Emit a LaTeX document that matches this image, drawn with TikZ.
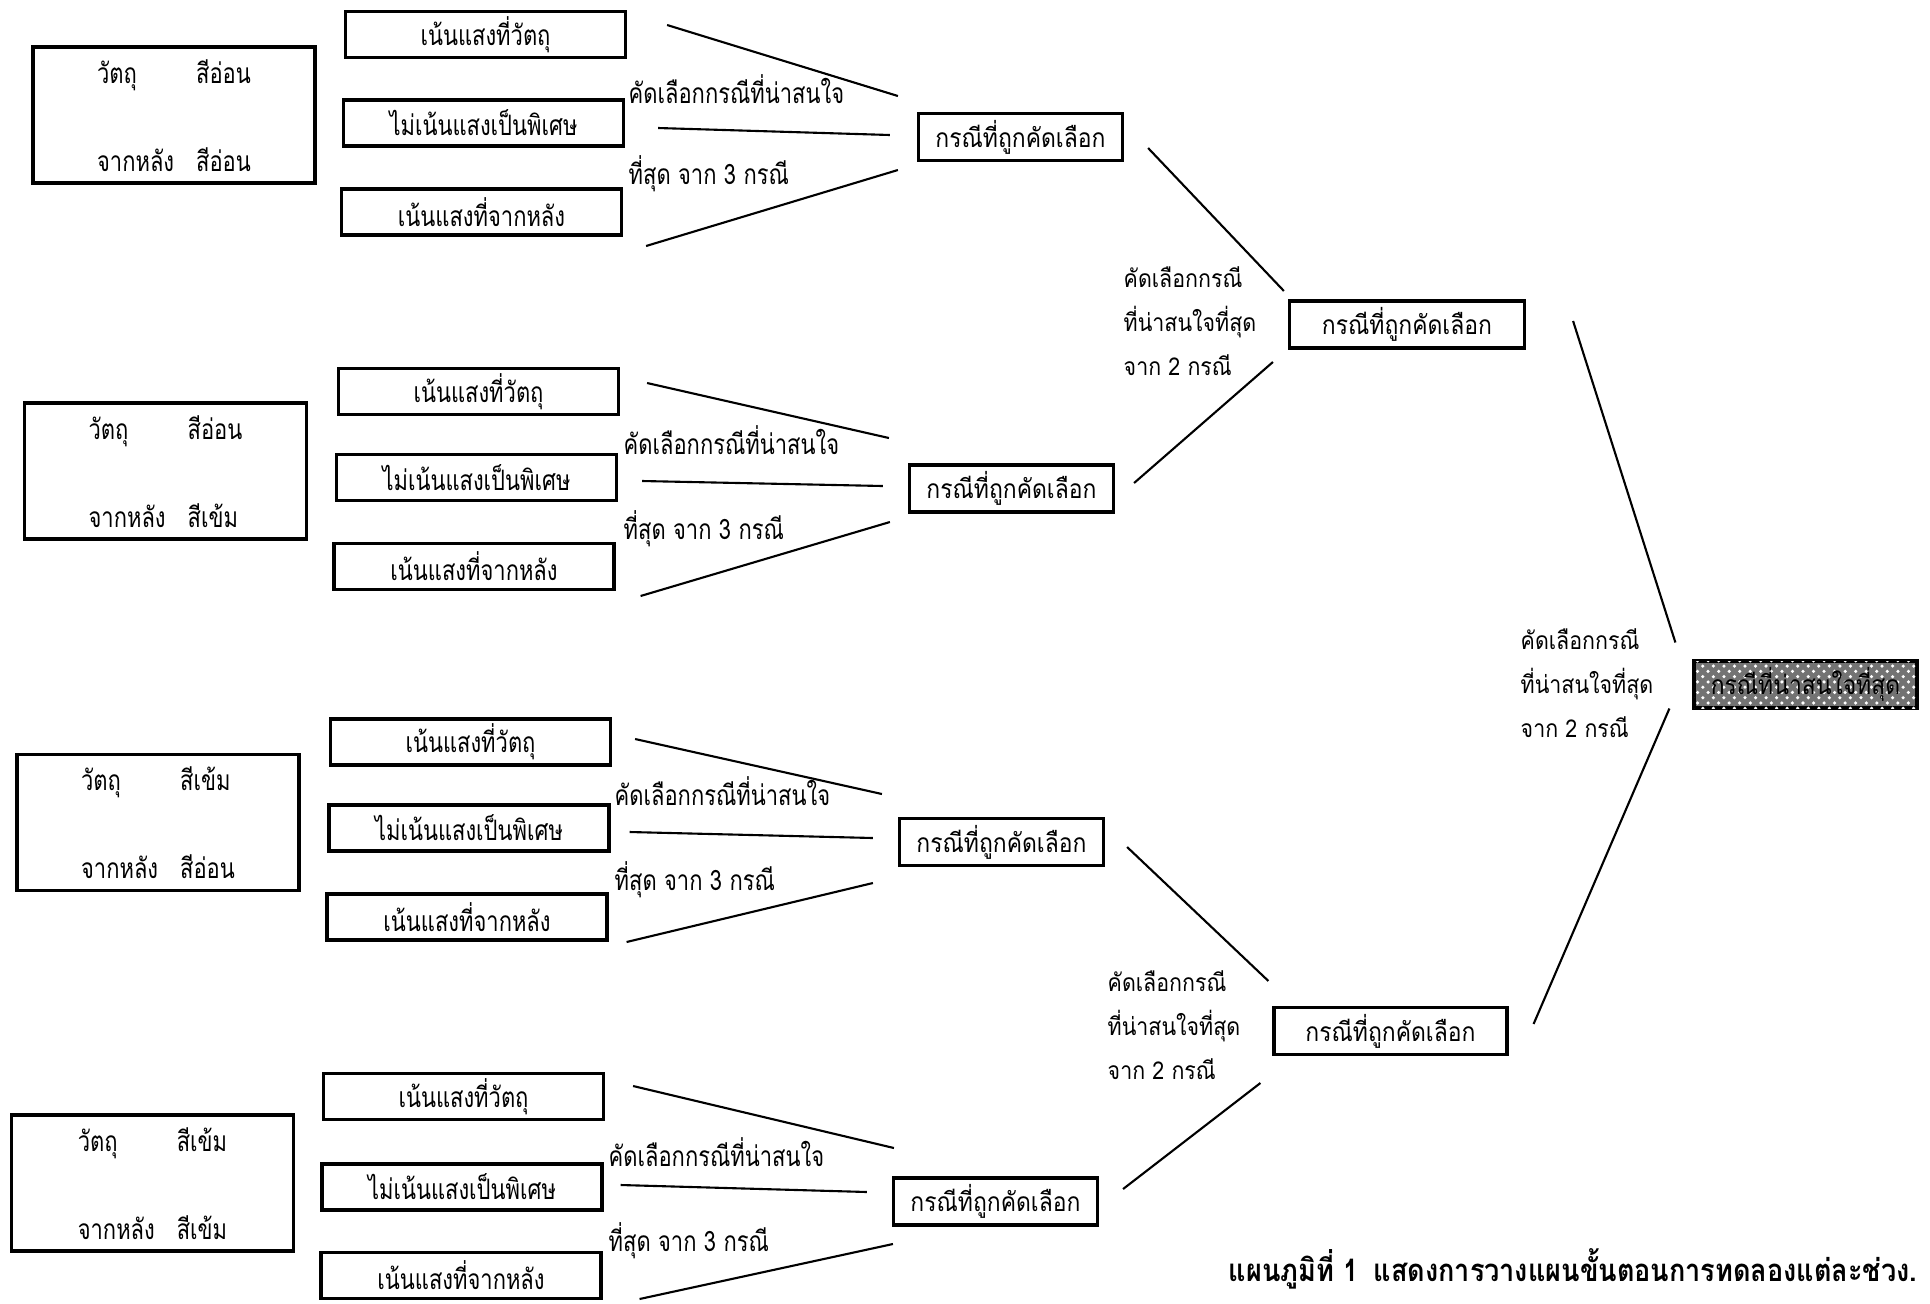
\documentclass[tikz,border=0pt]{standalone}
\usepackage{fontspec}
\newfontfamily\thaimid[Script=Thai,FakeStretch=0.87]{Loma}
\newfontfamily\thainarrow[Script=Thai,FakeStretch=0.78]{Loma}
\usetikzlibrary{patterns}
\tikzset{
  condbox/.style={
    rectangle, draw=black, line width=0.9pt, inner sep=0pt,
    minimum width=2.82cm, minimum height=1.36cm,
    font=\thainarrow\fontsize{8}{9}\selectfont
  },
  optbox/.style={
    rectangle, draw=black, line width=0.9pt, inner sep=0pt,
    minimum width=2.8cm, minimum height=0.46cm,
    font=\thainarrow\fontsize{8}{9}\selectfont
  },
  pickbox/.style={
    rectangle, draw=black, line width=0.9pt, inner sep=0pt,
    minimum width=#1, minimum height=0.47cm,
    font=\thaimid\fontsize{7.5}{9}\selectfont
  },
  pickbox/.default=2.04cm,
  bestbox/.style={
    pickbox=2.23cm, fill=black!55,
    postaction={pattern=crosshatch dots, pattern color=white!85}
  },
  cutline/.style={line width=0.6pt}
}

\begin{document}
\begin{tikzpicture}[
  notelabel/.style={anchor=west, inner sep=0pt, font=\thainarrow\fontsize{8}{9}\selectfont},
  pairlabel/.style={anchor=west, inner sep=0pt, align=left, font=\thaimid\fontsize{7}{12.6}\selectfont}
]
\useasboundingbox (0,0) rectangle (19.30,-13.04);

% Group 1: object light, background light
\node[condbox] (cond1) at (1.74,-1.15) {\begin{tabular}{@{}l@{\hspace{0.22cm}}l@{}}\rule{0pt}{0.34cm}วัตถุ & สีอ่อน\\[0.55cm] จากหลัง & สีอ่อน\end{tabular}};
\node[optbox] (a1) at (4.855,-0.345) {เน้นแสงที่วัตถุ};
\node[optbox] (b1) at (4.835,-1.23) {ไม่เน้นแสงเป็นพิเศษ};
\node[optbox] (c1) at (4.815,-2.12) {เน้นแสงที่จากหลัง};
\node[pickbox] (s1) at (10.205,-1.37) {กรณีที่ถูกคัดเลือก};
\node[notelabel] (n1a) at (6.28,-0.89) {คัดเลือกกรณีที่น่าสนใจ};
\node[notelabel] (n1b) at (6.28,-1.74) {ที่สุด จาก 3 กรณี};

% Group 2: object light, background dark
\node[condbox] (cond2) at (1.655,-4.71) {\begin{tabular}{@{}l@{\hspace{0.22cm}}l@{}}\rule{0pt}{0.34cm}วัตถุ & สีอ่อน\\[0.55cm] จากหลัง & สีเข้ม\end{tabular}};
\node[optbox] (a2) at (4.785,-3.915) {เน้นแสงที่วัตถุ};
\node[optbox] (b2) at (4.765,-4.775) {ไม่เน้นแสงเป็นพิเศษ};
\node[optbox] (c2) at (4.74,-5.665) {เน้นแสงที่จากหลัง};
\node[pickbox] (s2) at (10.115,-4.885) {กรณีที่ถูกคัดเลือก};
\node[notelabel] (n2a) at (6.23,-4.40) {คัดเลือกกรณีที่น่าสนใจ};
\node[notelabel] (n2b) at (6.23,-5.29) {ที่สุด จาก 3 กรณี};

% Group 3: object dark, background light
\node[condbox] (cond3) at (1.58,-8.225) {\begin{tabular}{@{}l@{\hspace{0.22cm}}l@{}}\rule{0pt}{0.34cm}วัตถุ & สีเข้ม\\[0.55cm] จากหลัง & สีอ่อน\end{tabular}};
\node[optbox] (a3) at (4.705,-7.42) {เน้นแสงที่วัตถุ};
\node[optbox] (b3) at (4.69,-8.28) {ไม่เน้นแสงเป็นพิเศษ};
\node[optbox] (c3) at (4.67,-9.17) {เน้นแสงที่จากหลัง};
\node[pickbox] (s3) at (10.015,-8.42) {กรณีที่ถูกคัดเลือก};
\node[notelabel] (n3a) at (6.14,-7.91) {คัดเลือกกรณีที่น่าสนใจ};
\node[notelabel] (n3b) at (6.14,-8.80) {ที่สุด จาก 3 กรณี};

% Group 4: object dark, background dark
\node[condbox] (cond4) at (1.525,-11.83) {\begin{tabular}{@{}l@{\hspace{0.22cm}}l@{}}\rule{0pt}{0.34cm}วัตถุ & สีเข้ม\\[0.55cm] จากหลัง & สีเข้ม\end{tabular}};
\node[optbox] (a4) at (4.635,-10.965) {เน้นแสงที่วัตถุ};
\node[optbox] (b4) at (4.62,-11.87) {ไม่เน้นแสงเป็นพิเศษ};
\node[optbox] (c4) at (4.61,-12.755) {เน้นแสงที่จากหลัง};
\node[pickbox] (s4) at (9.955,-12.015) {กรณีที่ถูกคัดเลือก};
\node[notelabel] (n4a) at (6.08,-11.52) {คัดเลือกกรณีที่น่าสนใจ};
\node[notelabel] (n4b) at (6.08,-12.41) {ที่สุด จาก 3 กรณี};

% Second round
\node[pickbox=2.35cm] (t1) at (14.07,-3.245) {กรณีที่ถูกคัดเลือก};
\node[pickbox=2.33cm] (t2) at (13.905,-10.31) {กรณีที่ถูกคัดเลือก};
\node[pairlabel] (p1) at (11.23,-3.21) {คัดเลือกกรณี\\ที่น่าสนใจที่สุด\\จาก 2 กรณี};
\node[pairlabel] (p2) at (11.07,-10.25) {คัดเลือกกรณี\\ที่น่าสนใจที่สุด\\จาก 2 กรณี};

% Final
\node[bestbox] (best) at (18.055,-6.845) {กรณีที่น่าสนใจที่สุด};
\node[pairlabel] (p3) at (15.20,-6.83) {คัดเลือกกรณี\\ที่น่าสนใจที่สุด\\จาก 2 กรณี};

% Caption
\node[anchor=west, inner sep=0pt, font=\thaimid\bfseries\fontsize{8.85}{10}\selectfont] (caption) at (12.28,-12.69) {แผนภูมิที่ 1\enspace แสดงการวางแผนขั้นตอนการทดลองแต่ละช่วง.};

% Lines, first round
\draw[cutline] ([shift={(0.40,0.095)}]a1.east) -- ([shift={(-0.19,0.41)}]s1.west);
\draw[cutline] ([shift={(0.33,-0.05)}]b1.east) -- ([shift={(-0.27,0.02)}]s1.west);
\draw[cutline] ([shift={(0.23,-0.34)}]c1.east) -- ([shift={(-0.19,-0.33)}]s1.west);
\draw[cutline] ([shift={(0.27,0.085)}]a2.east) -- ([shift={(-0.19,0.505)}]s2.west);
\draw[cutline] ([shift={(0.24,-0.035)}]b2.east) -- ([shift={(-0.25,0.025)}]s2.west);
\draw[cutline] ([shift={(0.25,-0.295)}]c2.east) -- ([shift={(-0.18,-0.335)}]s2.west);
\draw[cutline] ([shift={(0.23,0.03)}]a3.east) -- ([shift={(-0.16,0.48)}]s3.west);
\draw[cutline] ([shift={(0.19,-0.04)}]b3.east) -- ([shift={(-0.25,0.04)}]s3.west);
\draw[cutline] ([shift={(0.18,-0.25)}]c3.east) -- ([shift={(-0.25,-0.41)}]s3.west);
\draw[cutline] ([shift={(0.28,0.105)}]a4.east) -- ([shift={(0.02,0.535)}]s4.west);
\draw[cutline] ([shift={(0.17,0.02)}]b4.east) -- ([shift={(-0.25,0.095)}]s4.west);
\draw[cutline] ([shift={(0.37,-0.235)}]c4.east) -- ([shift={(0.01,-0.425)}]s4.west);

% Lines, second round
\draw[cutline] ([shift={(0.24,-0.11)}]s1.east) -- ([shift={(-0.04,0.335)}]t1.west);
\draw[cutline] ([shift={(0.19,0.055)}]s2.east) -- ([shift={(-0.15,-0.375)}]t1.west);
\draw[cutline] ([shift={(0.22,-0.05)}]s3.east) -- ([shift={(-0.04,0.50)}]t2.west);
\draw[cutline] ([shift={(0.24,0.125)}]s4.east) -- ([shift={(-0.12,-0.52)}]t2.west);

% Lines, final round
\draw[cutline] ([shift={(0.47,0.035)}]t1.east) -- ([shift={(-0.17,0.42)}]best.west);
\draw[cutline] ([shift={(0.25,0.07)}]t2.east) -- ([shift={(-0.23,-0.24)}]best.west);
\end{tikzpicture}
\end{document}
